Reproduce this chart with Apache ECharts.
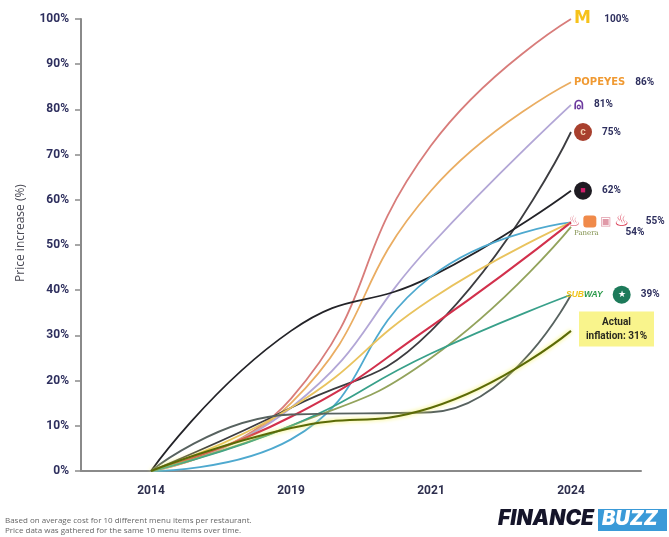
<!DOCTYPE html>
<html><head><meta charset="utf-8">
<script src="https://cdn.jsdelivr.net/npm/echarts@6/dist/echarts.min.js"></script>
<style>html,body{margin:0;padding:0;background:#fff}#c{width:669px;height:537px}</style>
</head><body><div id="c"></div>
<script>
const years = ['2014', '2019', '2021', '2024'];
const yTicks = [0, 10, 20, 30, 40, 50, 60, 70, 80, 90, 100];
const mcdonalds = [0, 16, 72, 100];
const popeyes = [0, 15, 62, 86];
const tacoBell = [0, 14, 50, 81];
const chipotle = [0, 14, 31, 75];
const jackInTheBox = [0, 31, 43, 62];
const chickFilA = [0, 7, 43, 55];
const wendys = [0, 14, 38, 55];
const burgerKing = [0, 12, 32, 55];
const panera = [0, 10, 25, 54];
const subway = [0, 10, 26, 39];
const starbucks = [0, 12.5, 13, 39];
const inflation = [0, 9.5, 14, 31];

const pctStyle = {color: '#2e2f5e', fontWeight: 'bold', fontSize: 10, fontFamily: 'Roboto'};
function mk(name, data, color, label, extra) {
  const s = {
    name: name, type: 'line', data: data, smooth: 0.5, symbol: 'none',
    lineStyle: {color: color, width: 1.8},
    emphasis: {disabled: true},
    endLabel: label ? Object.assign({show: true, distance: 3}, label) : {show: false},
    z: 2
  };
  return Object.assign(s, extra || {});
}

const series = [
  mk("McDonald's", mcdonalds, '#d87c7a', {
    formatter: '{logo|M}    {p|100%}',
    rich: {logo: {color: '#f6c21a', fontSize: 17, fontWeight: 'bold', fontFamily: 'DejaVu Sans'}, p: pctStyle}
  }),
  mk('Popeyes', popeyes, '#eaad62', {
    formatter: '{logo|POPEYES}   {p|86%}',
    rich: {logo: {color: '#f09a33', fontSize: 10, fontWeight: 'bold', fontFamily: 'DejaVu Sans'}, p: pctStyle}
  }),
  mk('Taco Bell', tacoBell, '#b2a6d6', {
    formatter: '{logo|⍝}   {p|81%}',
    rich: {logo: {color: '#6c3a9e', fontSize: 16, fontWeight: 'bold', fontFamily: 'DejaVu Sans'}, p: pctStyle}
  }),
  mk('Chipotle', chipotle, '#3c3c40', {
    formatter: '{logo|c}   {p|75%}',
    rich: {logo: {backgroundColor: '#a8402e', color: '#f3d0b0', borderRadius: 9, width: 18, height: 18, align: 'center', fontSize: 10, fontWeight: 'bold'}, p: pctStyle}
  }),
  mk('Jack in the Box', jackInTheBox, '#232328', {
    formatter: '{logo|■}   {p|62%}',
    rich: {logo: {backgroundColor: '#1e1b22', color: '#d01e6a', borderRadius: 9, width: 18, height: 18, align: 'center', fontSize: 9}, p: pctStyle}
  }),
  mk('Chick-fil-A', chickFilA, '#4ea9cf', {
    formatter: '{a|♨} {b| } {c|▣} {d|♨}     {p|55%}',
    offset: [-7, -1],
    rich: {
      a: {color: '#e07a8a', fontSize: 15},
      b: {backgroundColor: '#f08a4a', width: 13, height: 12, borderRadius: 3},
      c: {color: '#e09aa8', fontSize: 12},
      d: {color: '#d8304a', fontSize: 17},
      p: pctStyle
    }
  }),
  mk("Wendy's", wendys, '#e9c35e', null),
  mk('Burger King', burgerKing, '#d2304c', null, {lineStyle: {color: '#d2304c', width: 2}}),
  mk('Panera', panera, '#93a35c', {
    formatter: '{logo|Panera}        {p|54%}',
    offset: [0, 6],
    rich: {logo: {color: '#7f8f4a', fontSize: 7, fontFamily: 'DejaVu Serif'}, p: pctStyle}
  }),
  mk('Subway', subway, '#38a08a', null),
  mk('Starbucks', starbucks, '#57625f', {
    formatter: '{s1|SUB}{s2|WAY}   {sb|★}   {p|39%}',
    offset: [-8, 0],
    rich: {
      s1: {color: '#f0c419', fontSize: 8.5, fontWeight: 'bold', fontStyle: 'italic'},
      s2: {color: '#2a9a4a', fontSize: 8.5, fontWeight: 'bold', fontStyle: 'italic'},
      sb: {backgroundColor: '#1d7a5a', color: '#fff', borderRadius: 9, width: 18, height: 18, align: 'center', fontSize: 9},
      p: pctStyle
    }
  }),
  mk('Actual inflation', inflation, '#5b6a06', {
    formatter: '{a|Actual}\n{a|inflation: 31%}',
    offset: [5, -2],
    align: 'left',
    backgroundColor: '#f9f48c', padding: [4, 3, 3, 3],
    rich: {a: {color: '#2a2a20', fontWeight: 'bold', fontSize: 10, lineHeight: 14, align: 'center', fontFamily: 'Roboto', width: 69}}
  }, {lineStyle: {color: '#5b6a06', width: 2, shadowColor: '#f2ee50', shadowBlur: 4}, z: 3})
];

const chart = echarts.init(document.getElementById('c'), null, {renderer: 'canvas'});
chart.setOption({
  animation: false,
  backgroundColor: '#ffffff',
  grid: {left: 81, right: 28, top: 19, bottom: 66, containLabel: false},
  xAxis: {
    type: 'category', data: years, boundaryGap: true,
    axisLine: {lineStyle: {color: '#8a8a8a', width: 2}},
    axisTick: {alignWithLabel: true, length: 6, lineStyle: {color: '#8a8a8a', width: 1.5}},
    axisLabel: {color: '#2e2f4e', fontWeight: 'bold', fontSize: 12, margin: 14, fontFamily: 'Roboto'}
  },
  yAxis: {
    type: 'value', min: yTicks[0], max: yTicks[yTicks.length - 1], interval: 10,
    name: 'Price increase (%)', nameLocation: 'middle', nameGap: 54, nameRotate: 90,
    nameTextStyle: {color: '#4a4a55', fontSize: 12, fontFamily: 'Open Sans', padding: [0, 0, 0, 24]},
    axisLine: {show: true, lineStyle: {color: '#8a8a8a', width: 2}},
    axisTick: {show: true, length: 6, lineStyle: {color: '#8a8a8a', width: 1.5}},
    splitLine: {show: false},
    axisLabel: {formatter: '{value}%', color: '#2e2f5e', fontWeight: 'bold', fontSize: 12, margin: 12, fontFamily: 'Roboto'}
  },
  series: series,
  graphic: [
    {type: 'text', left: 5, top: 516, style: {text: 'Based on average cost for 10 different menu items per restaurant.\nPrice data was gathered for the same 10 menu items over time.', fill: '#666', fontSize: 8, lineHeight: 10, fontFamily: 'Open Sans'}},
    {type: 'text', left: 498, top: 508, style: {text: 'FINANCE', fill: '#15152a', fontSize: 21, fontWeight: 900, fontStyle: 'italic', fontFamily: 'Inter'}},
    {type: 'rect', left: 598, top: 509, shape: {width: 69, height: 22}, style: {fill: '#3a9ad8'}},
    {type: 'text', left: 602, top: 509, style: {text: 'BUZZ', fill: '#ffffff', fontSize: 20, fontWeight: 900, fontStyle: 'italic', fontFamily: 'Inter'}}
  ]
});
</script></body></html>
